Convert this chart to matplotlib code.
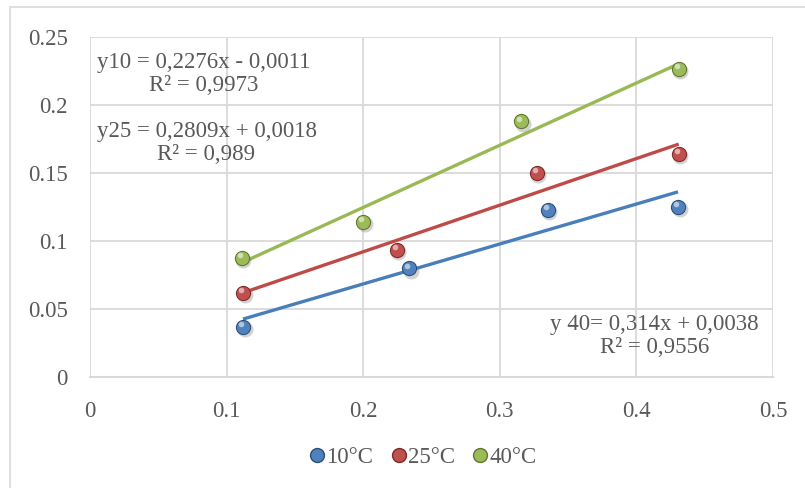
"""Scatter of three temperature series with linear trendlines (Excel style)"""
import numpy as np
import matplotlib
matplotlib.use("Agg")
import matplotlib.pyplot as plt
import matplotlib.transforms as mtransforms
from matplotlib.lines import Line2D
from matplotlib.patches import Rectangle
from matplotlib.ticker import FuncFormatter

# data
labels = ["10°C", "25°C", "40°C"]
x_10 = [0.112, 0.2335, 0.335, 0.4305]
y_10 = [0.037, 0.080, 0.123, 0.125]
x_25 = [0.112, 0.2245, 0.327, 0.431]
y_25 = [0.0618, 0.0934, 0.150, 0.164]
x_40 = [0.111, 0.200, 0.3155, 0.431]
y_40 = [0.0877, 0.1142, 0.188, 0.2265]
eq_texts = ["y10 = 0,2276x - 0,0011\nR² = 0,9973",
            "y25 = 0,2809x + 0,0018\nR² = 0,989",
            "y 40= 0,314x + 0,0038\nR² = 0,9556"]

colors = ["#4F81BD", "#C0504D", "#9BBB59"]
dark = ["#2C4D75", "#772C2A", "#5F7530"]
line_colors = ["#4A7EBB", "#BE4B48", "#98B954"]
text_color = "#595959"
grid_color = "#D9D9D9"

plt.rcParams['font.family'] = ['Liberation Serif', 'DejaVu Serif']
plt.rcParams['font.size'] = 16.5

fig = plt.figure(figsize=(8.05, 4.88), dpi=100)
ax = fig.add_axes([0.1118, 0.2275, 0.8484, 0.6967])

# outer chart border
fig.patches.append(Rectangle((10 / 805, -0.1), 2, 1.1 - 7 / 488, transform=fig.transFigure,
                             fill=False, edgecolor=grid_color, linewidth=1.2))


def balls(ax, x, y, color, edge):
    """fake 3d sphere markers"""
    shadow = mtransforms.offset_copy(ax.transData, fig=fig, x=1.2, y=-1.8, units='points')
    light = mtransforms.offset_copy(ax.transData, fig=fig, x=-1.3, y=1.8, units='points')
    ax.plot(x, y, 'o', ms=11.5, color='#808080', alpha=0.35, mec='none',
            transform=shadow, zorder=4)
    ax.plot(x, y, 'o', ms=11, color=edge, mec='none', zorder=5)
    ax.plot(x, y, 'o', ms=9.5, color=color, mec='none', zorder=6)
    ax.plot(x, y, 'o', ms=4, color='white', alpha=0.55, mec='none',
            transform=light, zorder=7)


series = [(x_10, y_10), (x_25, y_25), (x_40, y_40)]
for i, (xs, ys) in enumerate(series):
    xs = np.array(xs)
    ys = np.array(ys)
    k, b = np.polyfit(xs, ys, 1)
    xf = np.array([xs.min(), xs.max()])
    ax.plot(xf, k * xf + b, color=line_colors[i], lw=2.4, solid_capstyle='butt', zorder=3)
    balls(ax, xs, ys, colors[i], dark[i])

# trendline labels
ax.text(0.0835, 0.2228, eq_texts[0], ha='center', va='center', multialignment='center',
        color=text_color, linespacing=1.12, zorder=8)
ax.text(0.0853, 0.172, eq_texts[1], ha='center', va='center', multialignment='center',
        color=text_color, linespacing=1.12, zorder=8)
ax.text(0.4131, 0.0298, eq_texts[2], ha='center', va='center', multialignment='center',
        color=text_color, linespacing=1.12, zorder=8)

ax.set_xlim(0, 0.5)
ax.set_ylim(0, 0.25)
ax.set_xticks(np.arange(0, 0.51, 0.1))
ax.set_yticks(np.arange(0, 0.251, 0.05))
fmt = FuncFormatter(lambda v, p: "%g" % round(v, 3))
ax.xaxis.set_major_formatter(fmt)
ax.yaxis.set_major_formatter(fmt)
ax.tick_params(length=0, colors=text_color)
ax.tick_params(axis='y', pad=16)
ax.tick_params(axis='x', pad=17)
ax.grid(True, color=grid_color, lw=1.3)
ax.set_axisbelow(True)
for s in ['top', 'right', 'left']:
    ax.spines[s].set_visible(False)
ax.spines['bottom'].set_color(grid_color)
ax.spines['bottom'].set_linewidth(1.5)

handles = [Line2D([], [], marker='o', ls='none', ms=10, color=colors[i], mec=dark[i])
           for i in range(3)]
fig.legend(handles, labels, loc='center', bbox_to_anchor=(0.523, 1 - 457 / 488), ncol=3,
           frameon=False, handletextpad=-0.1, columnspacing=0.6, labelcolor=text_color,
           handlelength=1.0)

fig.savefig("out.png", dpi=100)
